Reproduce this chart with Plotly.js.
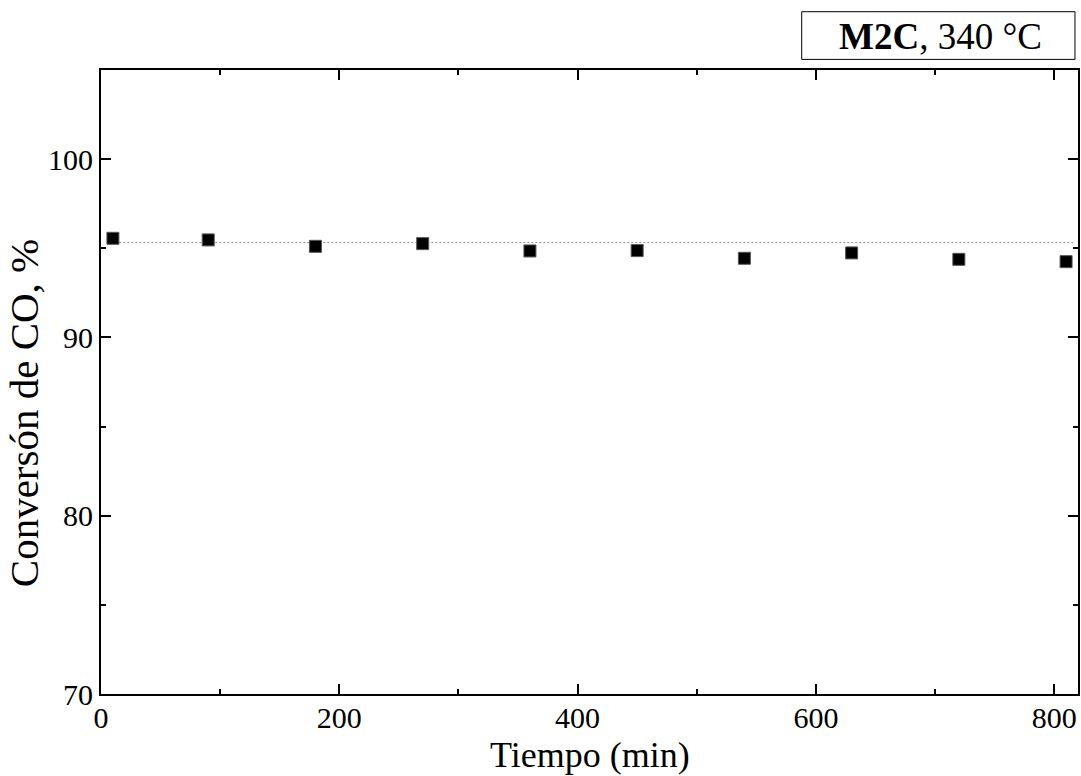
<!DOCTYPE html>
<html>
<head>
<meta charset="utf-8">
<script src="https://cdn.plot.ly/plotly-3.0.1.min.js"></script>
<style>html,body{margin:0;padding:0;background:#fff;}#chart{width:1081px;height:776px;}</style>
</head>
<body>
<div id="chart"></div>
<script>
const tiempo = [10, 90, 180, 270, 360, 450, 540, 630, 720, 810];
const conversion = [95.56, 95.47, 95.11, 95.26, 94.85, 94.87, 94.44, 94.74, 94.38, 94.25];
const refLineX = [12, 817];
const refLineY = [95.32, 95.32];
const xTickVals = [0, 200, 400, 600, 800];
const yTickVals = [70, 80, 90, 100];
const xTitle = 'Tiempo (min)';
const yTitle = 'Conversón de CO, %';
const boxLabel = '<b>M2C</b>, 340 °C';

const font = "'Liberation Serif', 'Times New Roman', serif";

const traces = [
  {x: refLineX, y: refLineY, mode: 'lines', line: {color: '#888', width: 1, dash: '2px,2px'}, hoverinfo: 'skip', showlegend: false},
  {x: tiempo, y: conversion, mode: 'markers', marker: {symbol: 'square', size: 12, color: '#000', line: {color: '#555', width: 1}}, showlegend: false}
];

const axisCommon = {
  showgrid: false, zeroline: false, showline: true, linecolor: '#000', linewidth: 2,
  mirror: 'ticks', ticks: 'inside', ticklen: 10, tickwidth: 2, tickcolor: '#000',
  tickfont: {family: font, size: 30, color: '#000'}
};

const layout = {
  width: 1081, height: 776,
  margin: {l: 101, r: 3, t: 70, b: 82},
  paper_bgcolor: '#fff', plot_bgcolor: '#fff',
  font: {family: font, color: '#000'},
  xaxis: Object.assign({}, axisCommon, {
    range: [0, 820], tickvals: xTickVals, ticklabelstandoff: -4,
    minor: {dtick: 100, tick0: 0, ticks: 'inside', ticklen: 5, tickwidth: 2, tickcolor: '#000'}
  }),
  yaxis: Object.assign({}, axisCommon, {
    range: [70, 105], tickvals: yTickVals,
    minor: {dtick: 5, tick0: 70, ticks: 'inside', ticklen: 5, tickwidth: 2, tickcolor: '#000'}
  }),
  shapes: [{
    type: 'rect', xref: 'paper', yref: 'paper',
    x0: 0.7172, x1: 0.9969, y0: 1.0170, y1: 1.0934,
    line: {color: '#000', width: 1}, fillcolor: '#fff', layer: 'above'
  }],
  annotations: [
    {
      xref: 'paper', yref: 'paper', x: 0.8597, y: 1.053, xanchor: 'center', yanchor: 'middle',
      text: boxLabel, showarrow: false,
      font: {family: font, size: 37, color: '#000'}
    },
    {
      xref: 'paper', yref: 'paper', x: 0.5, y: -0.1314, xanchor: 'center', yanchor: 'bottom',
      text: xTitle, showarrow: false, borderpad: 0,
      font: {family: font, size: 36, color: '#000'}
    },
    {
      xref: 'paper', yref: 'paper', x: -0.0788, y: 0.450, xanchor: 'center', yanchor: 'middle',
      textangle: -90, text: yTitle, showarrow: false,
      font: {family: font, size: 41, color: '#000'}
    }
  ]
};

Plotly.newPlot('chart', traces, layout, {displayModeBar: false, staticPlot: true});
</script>
</body>
</html>
